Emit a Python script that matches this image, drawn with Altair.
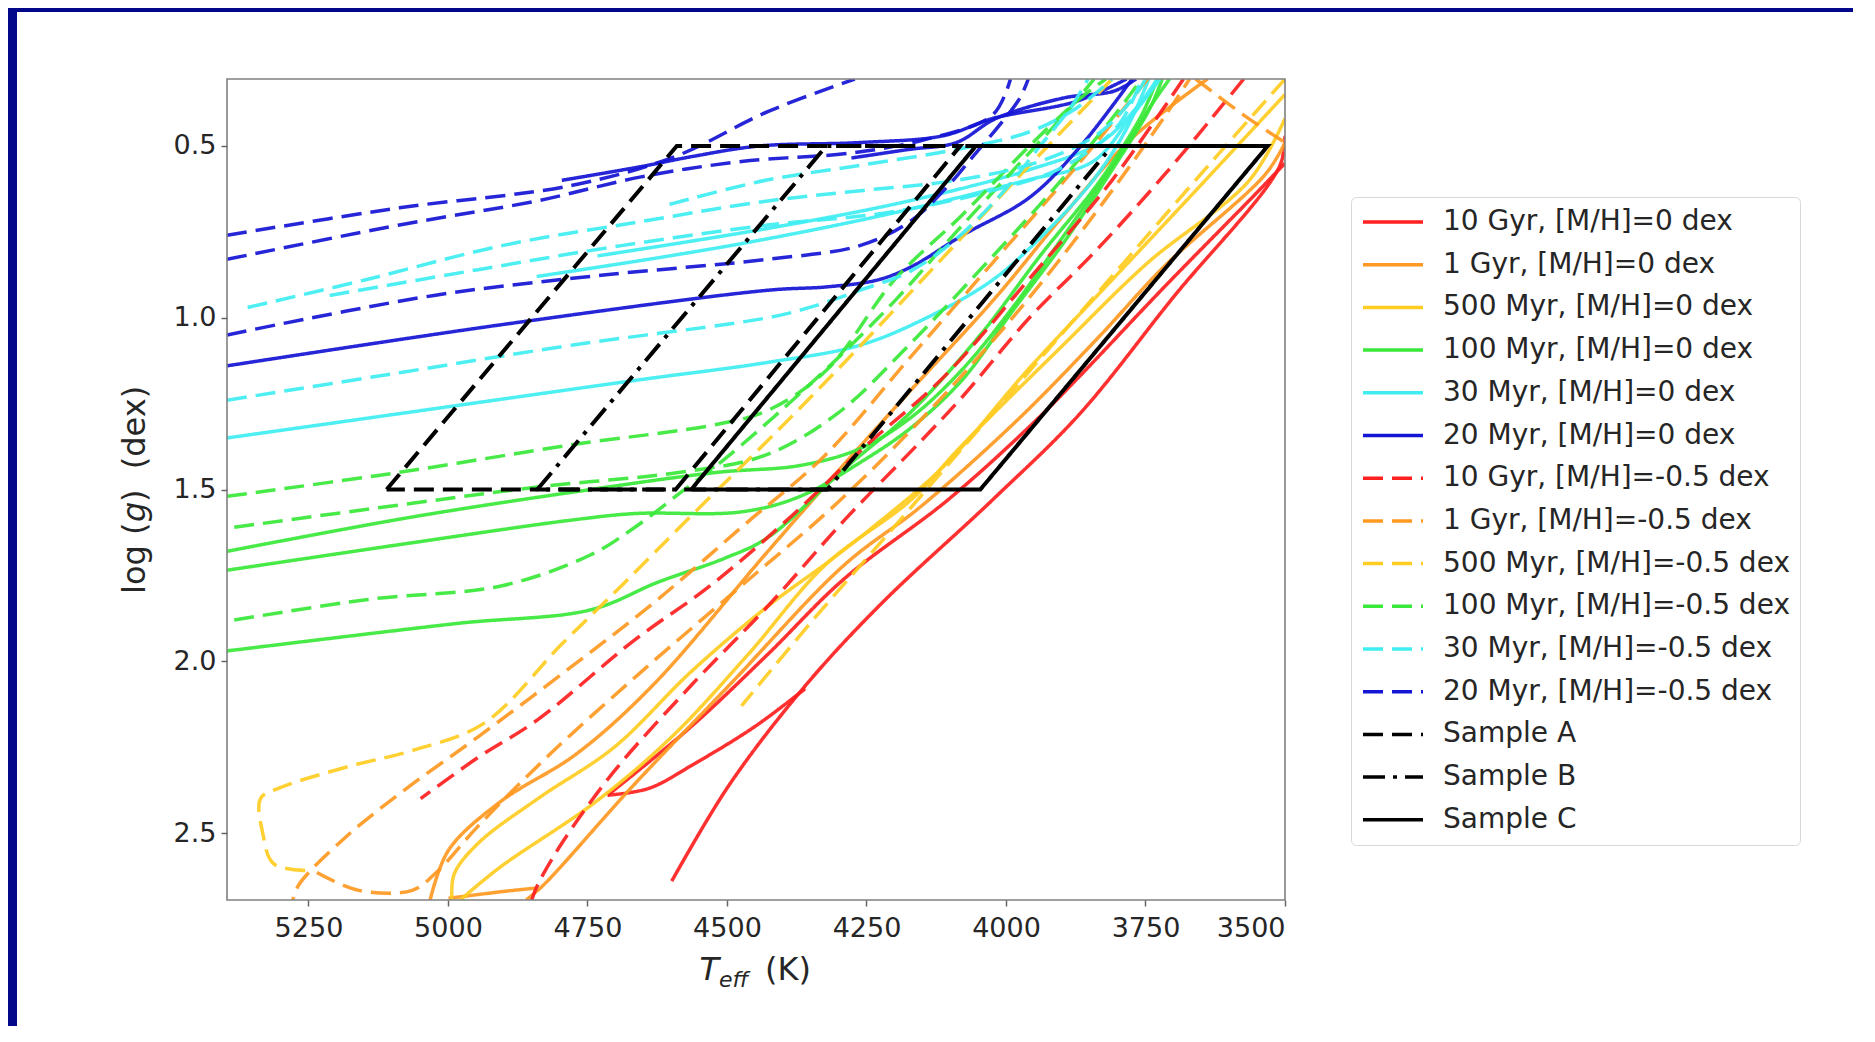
import altair as alt
import pandas as pd

# ---------------- axes ----------------
x_ticks = [5250, 5000, 4750, 4500, 4250, 4000, 3750, 3500]
y_ticks = [0.5, 1.0, 1.5, 2.0, 2.5]
x_domain = [3500, 5396]
y_domain = [0.305, 2.695]

# ---------------- legend ----------------
labels = [
    "10 Gyr, [M/H]=0 dex", "1 Gyr, [M/H]=0 dex", "500 Myr, [M/H]=0 dex",
    "100 Myr, [M/H]=0 dex", "30 Myr, [M/H]=0 dex", "20 Myr, [M/H]=0 dex",
    "10 Gyr, [M/H]=-0.5 dex", "1 Gyr, [M/H]=-0.5 dex", "500 Myr, [M/H]=-0.5 dex",
    "100 Myr, [M/H]=-0.5 dex", "30 Myr, [M/H]=-0.5 dex", "20 Myr, [M/H]=-0.5 dex",
    "Sample A", "Sample B", "Sample C",
]
colors = ["#ff2020", "#ff9922", "#ffcc22", "#3ae83a", "#40eef2", "#1515d5",
          "#ff2020", "#ff9922", "#ffcc22", "#3ae83a", "#40eef2", "#1515d5",
          "#000000", "#000000", "#000000"]
dashes = [[1, 0]] * 6 + [[20, 9]] * 6 + [[20, 9], [22, 8, 4, 8], [1, 0]]

# ---------------- isochrones: (Teff [K], log g [dex]) ----------------
gyr10_m00_a = [(3500, 0.47), (3510, 0.56), (3700, 0.94), (3868, 1.28), (4024, 1.53),
               (4222, 1.83), (4359, 2.07), (4496, 2.36), (4599, 2.64)]
gyr10_m00_b = [(3500, 0.55), (3547, 0.63), (3716, 0.91), (3862, 1.16), (3947, 1.30),
               (4104, 1.53), (4290, 1.76), (4427, 1.98), (4564, 2.19), (4714, 2.39)]
gyr10_m00_c = [(4714, 2.39), (4640, 2.37), (4560, 2.30), (4450, 2.19), (4360, 2.08)]

gyr1_m00_a = [(3500, 0.49), (3534, 0.58), (3716, 0.85), (3836, 1.06), (3981, 1.30),
              (4153, 1.55), (4290, 1.72), (4496, 2.07), (4667, 2.36), (4828, 2.65),
              (4860, 2.695)]
gyr1_m00_b = [(3639, 0.305), (3776, 0.48), (3896, 0.70), (4018, 0.94), (4170, 1.21),
              (4303, 1.45), (4432, 1.69), (4633, 2.07), (4770, 2.27), (4907, 2.41),
              (4999, 2.55), (5032, 2.695)]
gyr1_m00_c = [(4999, 2.69), (4900, 2.67), (4840, 2.66)]

myr500_m00_a = [(3500, 0.42), (3564, 0.60), (3746, 0.84), (3898, 1.08), (4078, 1.37),
                (4170, 1.53), (4324, 1.72), (4462, 1.98), (4599, 2.22), (4736, 2.41),
                (4907, 2.60), (4978, 2.695)]
myr500_m00_b = [(3500, 0.35), (3660, 0.63), (3810, 0.89), (3960, 1.15), (4110, 1.43),
                (4239, 1.61), (4318, 1.71), (4427, 1.84), (4564, 2.03), (4702, 2.25),
                (4839, 2.40), (4946, 2.53), (4989, 2.62), (4993, 2.695)]

myr100_m00_a = [(5396, 1.68), (5064, 1.58), (4744, 1.50), (4517, 1.45), (4369, 1.43),
                (4260, 1.38), (4170, 1.29), (4078, 1.15), (3988, 0.97), (3896, 0.76),
                (3810, 0.56), (3735, 0.37), (3707, 0.305)]
myr100_m00_b = [(5396, 1.735), (5064, 1.655), (4783, 1.59), (4665, 1.57), (4474, 1.565),
                (4369, 1.52), (4260, 1.42), (4170, 1.32), (4078, 1.18), (3988, 0.98),
                (3896, 0.78), (3810, 0.57), (3742, 0.39), (3720, 0.305)]
myr100_m00_c = [(5396, 1.97), (4984, 1.89), (4744, 1.85), (4624, 1.77), (4504, 1.70),
                (4427, 1.64), (4290, 1.44), (4174, 1.28), (4046, 1.05), (3939, 0.82),
                (3831, 0.60), (3757, 0.41), (3729, 0.305)]

myr30_m00_a = [(5396, 1.35), (5025, 1.265), (4654, 1.18), (4427, 1.13), (4262, 1.08),
               (4142, 1.00), (4024, 0.89), (3934, 0.76), (3844, 0.60), (3784, 0.45),
               (3744, 0.305)]
myr30_m00_b = [(4841, 0.88), (4603, 0.82), (4427, 0.77), (4202, 0.695), (3964, 0.60),
               (3844, 0.545), (3778, 0.42), (3724, 0.305)]
myr30_m00_c = [(4732, 0.82), (4427, 0.74), (4174, 0.66), (3960, 0.57), (3831, 0.49),
               (3767, 0.39), (3729, 0.305)]

myr20_m00_a = [(5396, 1.14), (4903, 1.02), (4427, 0.92), (4320, 0.91), (4230, 0.89),
               (4168, 0.85), (4078, 0.76), (3958, 0.65), (3866, 0.50), (3774, 0.305)]
myr20_m00_b = [(4796, 0.60), (4654, 0.56), (4560, 0.53), (4442, 0.50), (4262, 0.49),
               (4112, 0.47), (4024, 0.42), (3874, 0.37), (3784, 0.305)]
myr20_m00_c = [(4277, 0.535), (4174, 0.51), (4089, 0.49), (4018, 0.42), (3896, 0.36),
               (3806, 0.34), (3767, 0.305)]

gyr10_m05_a = [(3574, 0.305), (3714, 0.58), (3842, 0.81), (3958, 1.00), (4078, 1.23),
               (4153, 1.36), (4290, 1.59), (4427, 1.84), (4564, 2.07), (4702, 2.32),
               (4796, 2.53), (4839, 2.65), (4850, 2.695)]
gyr10_m05_b = [(3682, 0.305), (3810, 0.60), (3960, 0.89), (4110, 1.17), (4256, 1.38),
               (4393, 1.59), (4530, 1.78), (4667, 1.94), (4839, 2.17), (4946, 2.28),
               (5049, 2.40)]

gyr1_m05_a = [(3746, 0.305), (3874, 0.56), (4024, 0.84), (4174, 1.12), (4324, 1.40),
              (4474, 1.61), (4624, 1.82), (4774, 2.01), (4946, 2.22), (5074, 2.37),
              (5182, 2.51), (5267, 2.65), (5278, 2.695)]
gyr1_m05_b = [(5235, 2.615), (5160, 2.667), (5064, 2.667), (5021, 2.615), (4946, 2.48),
              (4817, 2.27), (4646, 2.02), (4474, 1.78), (4303, 1.54), (4131, 1.26),
              (3960, 0.945), (3810, 0.63), (3714, 0.41), (3671, 0.305)]
gyr1_m05_c = [(3660, 0.305), (3574, 0.41), (3500, 0.49)]

myr500_m05_a = [(3810, 0.305), (3960, 0.56), (4110, 0.82), (4260, 1.08), (4410, 1.33),
                (4560, 1.57), (4689, 1.78), (4796, 1.95), (4935, 2.18), (5064, 2.26),
                (5175, 2.305), (5304, 2.37), (5336, 2.40), (5332, 2.50), (5312, 2.59),
                (5239, 2.61)]
myr500_m05_b = [(3500, 0.305), (3639, 0.56), (3789, 0.84), (3939, 1.12), (4089, 1.40),
                (4217, 1.64), (4346, 1.88), (4474, 2.13)]

myr100_m05_a = [(5396, 1.52), (5087, 1.45), (4779, 1.37), (4517, 1.31), (4427, 1.27),
                (4320, 1.15), (4200, 0.89), (4078, 0.70), (3958, 0.50), (3866, 0.36),
                (3821, 0.305)]
myr100_m05_b = [(5383, 1.61), (5064, 1.54), (4824, 1.49), (4584, 1.45), (4431, 1.40),
                (4303, 1.28), (4174, 1.08), (4046, 0.86), (3917, 0.63), (3810, 0.42),
                (3757, 0.305)]
myr100_m05_c = [(5383, 1.88), (5143, 1.82), (4903, 1.78), (4744, 1.69), (4665, 1.61),
                (4584, 1.51), (4507, 1.415), (4410, 1.28), (4303, 1.12), (4196, 0.945),
                (4089, 0.75), (3981, 0.56), (3896, 0.41), (3842, 0.305)]

myr30_m05_a = [(5396, 1.24), (5087, 1.16), (4779, 1.08), (4427, 1.00), (4352, 0.97),
               (4262, 0.92), (4172, 0.865), (4089, 0.77), (4003, 0.63), (3939, 0.50),
               (3885, 0.39), (3853, 0.305)]
myr30_m05_b = [(5359, 0.97), (5149, 0.89), (4903, 0.79), (4654, 0.72), (4427, 0.66),
               (4260, 0.63), (4089, 0.60), (3939, 0.545), (3831, 0.46), (3767, 0.35),
               (3750, 0.305)]
myr30_m05_c = [(5212, 0.935), (4946, 0.86), (4689, 0.79), (4427, 0.73), (4217, 0.695),
               (4024, 0.63), (3896, 0.56), (3799, 0.44), (3757, 0.305)]
myr30_m05_d = [(4603, 0.67), (4431, 0.60), (4260, 0.556), (4089, 0.51), (3960, 0.46),
               (3874, 0.39), (3810, 0.305)]

myr20_m05_a = [(5396, 0.76), (5087, 0.68), (4779, 0.615), (4592, 0.53), (4427, 0.40),
               (4271, 0.305)]
myr20_m05_b = [(5396, 0.83), (5087, 0.73), (4841, 0.66), (4654, 0.59), (4474, 0.545),
               (4275, 0.52), (4142, 0.48), (4024, 0.41), (3992, 0.305)]
myr20_m05_c = [(5396, 1.05), (5025, 0.935), (4717, 0.875), (4427, 0.83), (4262, 0.79),
               (4172, 0.72), (4106, 0.62), (4059, 0.53), (4012, 0.44), (3975, 0.36),
               (3960, 0.305)]

# ---------------- sample selection boxes ----------------
sample_a = [(5110, 1.5), (4590, 0.5), (4082, 0.5), (4592, 1.5), (5110, 1.5)]
sample_b = [(4840, 1.5), (4322, 0.5), (3810, 0.5), (4320, 1.5), (4840, 1.5)]
sample_c = [(4564, 1.5), (4054, 0.5), (3531, 0.5), (4046, 1.5), (4564, 1.5)]

iso_segments = [
    (0, gyr10_m00_a), (0, gyr10_m00_b), (0, gyr10_m00_c),
    (1, gyr1_m00_a), (1, gyr1_m00_b), (1, gyr1_m00_c),
    (2, myr500_m00_a), (2, myr500_m00_b),
    (3, myr100_m00_a), (3, myr100_m00_b), (3, myr100_m00_c),
    (4, myr30_m00_a), (4, myr30_m00_b), (4, myr30_m00_c),
    (5, myr20_m00_a), (5, myr20_m00_b), (5, myr20_m00_c),
    (6, gyr10_m05_a), (6, gyr10_m05_b),
    (7, gyr1_m05_a), (7, gyr1_m05_b), (7, gyr1_m05_c),
    (8, myr500_m05_a), (8, myr500_m05_b),
    (9, myr100_m05_a), (9, myr100_m05_b), (9, myr100_m05_c),
    (10, myr30_m05_a), (10, myr30_m05_b), (10, myr30_m05_c), (10, myr30_m05_d),
    (11, myr20_m05_a), (11, myr20_m05_b), (11, myr20_m05_c),
]
sample_segments = [(12, sample_a), (13, sample_b), (14, sample_c)]


def to_frame(segments, start=0):
    rows = []
    for s, (li, pts) in enumerate(segments):
        for k, (t, g) in enumerate(pts):
            rows.append({"T": t, "logg": g, "label": labels[li], "seg": start + s, "k": k})
    return pd.DataFrame(rows)


iso_df = to_frame(iso_segments)
smp_df = to_frame(sample_segments, start=100)
one = pd.DataFrame({"a": [0]})

FONT = "DejaVu Sans"
W, H = 1058, 821

leg = alt.Legend(
    orient="none", legendX=1124, legendY=118, title=None, direction="vertical",
    symbolType="stroke", symbolSize=3600, symbolStrokeWidth=3.5, symbolOpacity=1,
    labelFont=FONT, labelFontSize=28, labelColor="#262626", labelLimit=700,
    labelOffset=18, padding=10, rowPadding=12.7, clipHeight=30,
    strokeColor="#d9d9d9", fillColor="white", cornerRadius=5,
)

axis_common = dict(labelFont=FONT, labelFontSize=27, labelColor="#262626",
                   tickColor="#666666", tickSize=6, tickWidth=1.5, domain=False,
                   grid=False, title=None, zindex=1)

x_enc = alt.X("T:Q", scale=alt.Scale(domain=x_domain, reverse=True, nice=False, zero=False),
              axis=alt.Axis(values=x_ticks, format="d", labelPadding=9, **axis_common))
y_enc = alt.Y("logg:Q", scale=alt.Scale(domain=y_domain, reverse=True, nice=False, zero=False),
              axis=alt.Axis(values=y_ticks, format=".1f", labelPadding=5, **axis_common))
c_enc = alt.Color("label:N", scale=alt.Scale(domain=labels, range=colors), legend=leg)
d_enc = alt.StrokeDash("label:N", scale=alt.Scale(domain=labels, range=dashes), legend=leg)

white_card = alt.Chart(one).mark_rect(color="white").encode(
    x=alt.value(-210), x2=alt.value(1640), y=alt.value(-67), y2=alt.value(955))

iso = alt.Chart(iso_df).mark_line(strokeWidth=3.5, clip=True, opacity=0.93,
                                  interpolate="catmull-rom").encode(
    x=x_enc, y=y_enc, color=c_enc, strokeDash=d_enc, detail="seg:N", order="k:Q")

smp = alt.Chart(smp_df).mark_line(strokeWidth=4, clip=True).encode(
    x=x_enc, y=y_enc, color=c_enc, strokeDash=d_enc, detail="seg:N", order="k:Q")

frame = alt.Chart(one).mark_rect(filled=False, color="#808080", strokeWidth=1.6).encode(
    x=alt.value(0), x2=alt.value(W), y=alt.value(0), y2=alt.value(H))

tx_T = alt.Chart(one).mark_text(text="T", font=FONT, fontSize=32, fontStyle="italic",
                                align="right", baseline="alphabetic", color="#262626").encode(
    x=alt.value(492), y=alt.value(901))
tx_eff = alt.Chart(one).mark_text(text="eff", font=FONT, fontSize=22, fontStyle="italic",
                                  align="left", baseline="alphabetic", color="#262626").encode(
    x=alt.value(492), y=alt.value(908))
tx_K = alt.Chart(one).mark_text(text="(K)", font=FONT, fontSize=32,
                                align="left", baseline="alphabetic", color="#262626").encode(
    x=alt.value(538), y=alt.value(901))

ty_1 = alt.Chart(one).mark_text(text="log (", font=FONT, fontSize=32, angle=270,
                                align="left", baseline="middle", color="#262626").encode(
    x=alt.value(-92), y=alt.value(515))
ty_2 = alt.Chart(one).mark_text(text="g", font=FONT, fontSize=32, angle=270, fontStyle="italic",
                                align="left", baseline="middle", color="#262626").encode(
    x=alt.value(-92), y=alt.value(443))
ty_3 = alt.Chart(one).mark_text(text=")\u00a0\u00a0(dex)", font=FONT, fontSize=32, angle=270,
                                align="left", baseline="middle", color="#262626").encode(
    x=alt.value(-92), y=alt.value(423))

chart = alt.layer(
    white_card, iso, smp, frame, tx_T, tx_eff, tx_K, ty_1, ty_2, ty_3
).properties(
    width=W, height=H,
    padding={"left": 219, "top": 71, "right": 568, "bottom": 126},
    autosize=alt.AutoSizeParams(type="none"),
    background="#03078a",
).configure_view(stroke=None)

chart.save("out.html", embed_options={"renderer": "svg", "actions": False})
